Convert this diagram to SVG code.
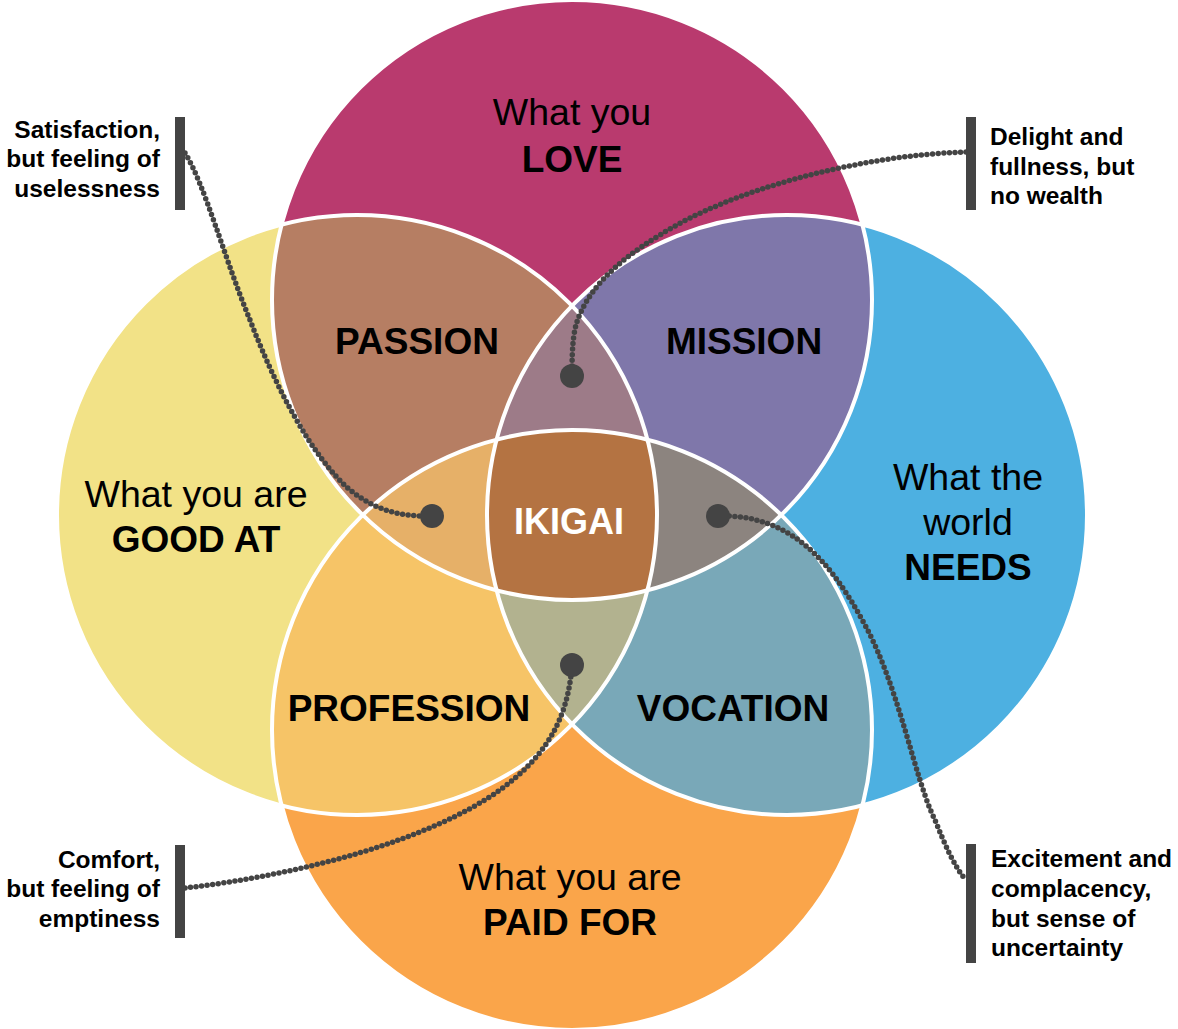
<svg xmlns="http://www.w3.org/2000/svg" width="1178" height="1029" viewBox="0 0 1178 1029">
  <style>
    .lbl { font-family: "Liberation Sans", Arial, sans-serif; fill: #000; text-anchor: middle; }
    .reg { font-size: 37.5px; font-weight: normal; }
    .bold { font-size: 37px; font-weight: bold; }
    .core { font-family: "Liberation Sans", Arial, sans-serif; font-size: 36px; font-weight: bold; fill: #fff; text-anchor: middle; }
    .note { font-family: "Liberation Sans", Arial, sans-serif; font-size: 24.5px; font-weight: bold; fill: #000; }
    .note-l { text-anchor: end; }
    .note-r { text-anchor: start; }
    .bar { fill: #444; }
    .outline { fill: none; stroke: #fff; stroke-width: 4; }
    .wire { fill: none; stroke: #444; stroke-width: 5.5; stroke-linecap: round; stroke-dasharray: 0 5.6; }
    .pin { fill: #444; }
  </style>
  <defs>
    <clipPath id="cT"><circle cx="572" cy="300" r="300"/></clipPath>
    <clipPath id="cL"><circle cx="357" cy="515" r="300"/></clipPath>
    <clipPath id="cR"><circle cx="787" cy="515" r="300"/></clipPath>
    <clipPath id="cB"><circle cx="572" cy="730" r="300"/></clipPath>
  </defs>

  <rect width="1178" height="1029" fill="#fff"/>

  <!-- four main circles -->
  <g id="love"><circle cx="572" cy="300" r="300" fill="#B93A6E"/></g>
  <g id="good-at"><circle cx="357" cy="515" r="300" fill="#F2E287"/></g>
  <g id="needs"><circle cx="787" cy="515" r="300" fill="#4DB0E1"/></g>
  <g id="paid-for"><circle cx="572" cy="730" r="300" fill="#FAA54A"/></g>

  <!-- pairwise overlaps -->
  <g id="passion" clip-path="url(#cL)"><circle cx="572" cy="300" r="300" fill="#B67E63"/></g>
  <g id="mission" clip-path="url(#cR)"><circle cx="572" cy="300" r="300" fill="#7F77AA"/></g>
  <g id="profession" clip-path="url(#cL)"><circle cx="572" cy="730" r="300" fill="#F6C467"/></g>
  <g id="vocation" clip-path="url(#cR)"><circle cx="572" cy="730" r="300" fill="#79A8B8"/></g>

  <!-- triple overlaps -->
  <g id="love-skill-need" clip-path="url(#cL)"><g clip-path="url(#cR)"><circle cx="572" cy="300" r="300" fill="#9D7B88"/></g></g>
  <g id="love-skill-pay" clip-path="url(#cL)"><g clip-path="url(#cB)"><circle cx="572" cy="300" r="300" fill="#E6B068"/></g></g>
  <g id="love-need-pay" clip-path="url(#cR)"><g clip-path="url(#cB)"><circle cx="572" cy="300" r="300" fill="#8C847F"/></g></g>
  <g id="skill-need-pay" clip-path="url(#cL)"><g clip-path="url(#cR)"><circle cx="572" cy="730" r="300" fill="#B2B28F"/></g></g>

  <!-- centre -->
  <g id="ikigai" clip-path="url(#cL)"><g clip-path="url(#cR)"><g clip-path="url(#cT)"><circle cx="572" cy="730" r="300" fill="#B47342"/></g></g></g>

  <!-- white outlines -->
  <g id="outlines">
    <circle class="outline" cx="572" cy="300" r="300"/>
    <circle class="outline" cx="357" cy="515" r="300"/>
    <circle class="outline" cx="787" cy="515" r="300"/>
    <circle class="outline" cx="572" cy="730" r="300"/>
  </g>

  <!-- region labels -->
  <g id="labels">
    <text class="lbl reg" x="572" y="125">What you</text>
    <text class="lbl bold" x="572" y="172">LOVE</text>
    <text class="lbl reg" x="196" y="507">What you are</text>
    <text class="lbl bold" x="196" y="552">GOOD AT</text>
    <text class="lbl reg" x="968" y="490">What the</text>
    <text class="lbl reg" x="968" y="535">world</text>
    <text class="lbl bold" x="968" y="580">NEEDS</text>
    <text class="lbl reg" x="570" y="890">What you are</text>
    <text class="lbl bold" x="570" y="935">PAID FOR</text>
    <text class="lbl bold" x="417" y="354">PASSION</text>
    <text class="lbl bold" x="744" y="354">MISSION</text>
    <text class="lbl bold" x="409" y="721">PROFESSION</text>
    <text class="lbl bold" x="733" y="721">VOCATION</text>
    <text class="core" x="569" y="534">IKIGAI</text>
  </g>

  <!-- dotted leader lines -->
  <g id="connectors">
    <path class="wire" d="M185,153 C205,185 225,260 250,320 C275,385 310,455 350,490 C375,510 400,517 432,516"/>
    <path class="wire" d="M966,152 C860,155 730,190 660,235 C610,265 585,295 576,325 C572,340 572,360 572,376"/>
    <path class="wire" d="M185,888 C300,875 430,840 500,790 C545,757 568,720 572,665"/>
    <path class="wire" d="M718,516 C790,514 830,560 865,625 C900,690 915,780 935,820 C945,845 955,868 966,880"/>
    <circle class="pin" cx="432" cy="516" r="12"/>
    <circle class="pin" cx="572" cy="376" r="12"/>
    <circle class="pin" cx="572" cy="665" r="12"/>
    <circle class="pin" cx="718" cy="516" r="12"/>
  </g>

  <!-- callouts -->
  <g id="note-useless">
    <rect class="bar" x="175" y="117" width="10" height="93"/>
    <text class="note note-l" x="160" y="138">Satisfaction,</text>
    <text class="note note-l" x="160" y="167">but feeling of</text>
    <text class="note note-l" x="160" y="197">uselessness</text>
  </g>
  <g id="note-wealth">
    <rect class="bar" x="966" y="117" width="10" height="93"/>
    <text class="note note-r" x="990" y="145">Delight and</text>
    <text class="note note-r" x="990" y="175">fullness, but</text>
    <text class="note note-r" x="990" y="204">no wealth</text>
  </g>
  <g id="note-empty">
    <rect class="bar" x="175" y="845" width="10" height="93"/>
    <text class="note note-l" x="160" y="868">Comfort,</text>
    <text class="note note-l" x="160" y="897">but feeling of</text>
    <text class="note note-l" x="160" y="927">emptiness</text>
  </g>
  <g id="note-uncertain">
    <rect class="bar" x="966" y="844" width="10" height="119"/>
    <text class="note note-r" x="991" y="867">Excitement and</text>
    <text class="note note-r" x="991" y="897">complacency,</text>
    <text class="note note-r" x="991" y="927">but sense of</text>
    <text class="note note-r" x="991" y="956">uncertainty</text>
  </g>
</svg>
